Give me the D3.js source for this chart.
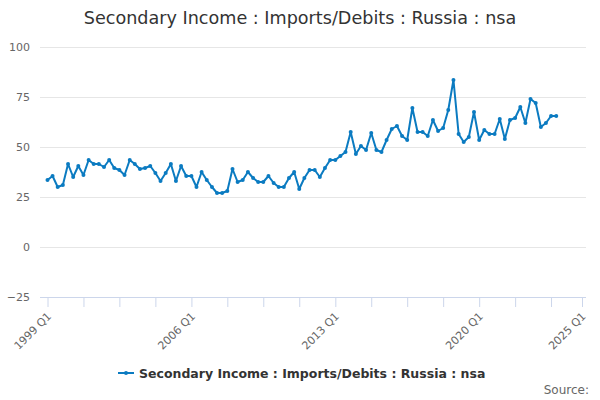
<!DOCTYPE html>
<html>
<head>
<meta charset="utf-8">
<script src="https://cdn.jsdelivr.net/npm/d3@7"></script>
<style>
  body { margin: 0; background: #fff; }
  svg { font-family: "DejaVu Sans", sans-serif; }
</style>
</head>
<body>
<div id="chart"></div>
<script>
const seriesName = "Secondary Income : Imports/Debits : Russia : nsa";
const startYear = 1999;
// quarterly values, 1999 Q1 .. 2023 Q4
const values = [
  33.5, 35.5, 30, 31,
  41.5, 35, 40.5, 36,
  43.5, 41.5, 41.5, 40,
  43.5, 39.5, 38.5, 36,
  43.5, 41.5, 39, 39.5,
  40.5, 37, 33, 37,
  41.5, 33, 40.5, 35.5,
  35.5, 30, 37.5, 33.5,
  30, 27, 27, 28,
  39, 32.5, 33.5, 37.5,
  34.5, 32.5, 32.5, 35.5,
  32, 30, 30, 34.5,
  37.5, 29, 34.5, 38.5,
  38.5, 35, 39.5, 43.5,
  43.5, 45.5, 47.5, 57.5,
  46.5, 50.5, 48.5, 57,
  48.5, 47.5, 53.5, 59,
  60.5, 55.5, 53.5, 69.5,
  57.5, 57.5, 55.5, 63.5,
  58, 59.5, 68.5, 83.5,
  56.5, 52.5, 55, 67.5,
  53.5, 58.5, 56.5, 56.5,
  64, 54, 63.5, 64.5,
  70, 62, 74, 72,
  60, 62, 65.5, 65.5
];
const yTicks = [-25, 0, 25, 50, 75, 100];
const labelQuarters = [0, 28, 56, 84, 104];   // 1999 Q1, 2006 Q1, 2013 Q1, 2020 Q1, 2025 Q1
const tickQuarters = [0, 7, 14, 21, 28, 35, 42, 49, 56, 63, 70, 77, 84, 91, 98, 104];

const containerWidth = 600;
const containerHeight = 400;
const plot = { left: 40, right: 586, top: 47, bottom: 297 };

const qDate = q => new Date(startYear + Math.floor(q / 4), (q % 4) * 3, 1);
const qLabel = q => `${startYear + Math.floor(q / 4)} Q${q % 4 + 1}`;

const data = values.map((v, i) => ({ date: qDate(i), value: v }));

const svg = d3.select('#chart')
  .append('svg')
  .attr('width', containerWidth)
  .attr('height', containerHeight);

const x = d3.scaleTime()
  .domain([qDate(0), qDate(104)])
  .range([47.5, 582]);

const y = d3.scaleLinear()
  .domain([-25, 100])
  .range([plot.bottom, plot.top]);

// title
svg.append('text')
  .attr('x', containerWidth / 2)
  .attr('y', 24)
  .attr('text-anchor', 'middle')
  .style('font-size', '17.6px')
  .style('fill', '#333')
  .text(seriesName);

// grid + y labels
const yAxis = svg.append('g')
  .attr('transform', `translate(${plot.left}, 0)`)
  .call(d3.axisLeft(y).tickValues(yTicks).tickSize(-(plot.right - plot.left)).tickPadding(10));
yAxis.select('.domain').remove();
yAxis.selectAll('.tick line').attr('stroke', '#e6e6e6');
yAxis.selectAll('.tick text')
  .style('font-size', '11px')
  .style('fill', '#666')
  .style('font-family', '"DejaVu Sans", sans-serif');

// x axis
const xAxis = svg.append('g')
  .attr('transform', `translate(0, ${plot.bottom})`)
  .call(d3.axisBottom(x)
    .tickValues(tickQuarters.map(qDate))
    .tickSize(10)
    .tickSizeOuter(0)
    .tickFormat((d, i) => labelQuarters.includes(tickQuarters[i]) ? qLabel(tickQuarters[i]) : ''));
xAxis.select('.domain')
  .attr('d', `M${plot.left},0.5H${plot.right}`)
  .attr('stroke', '#ccd6eb');
xAxis.selectAll('.tick line').attr('stroke', '#ccd6eb');
xAxis.selectAll('.tick text')
  .style('font-size', '11px')
  .style('fill', '#666')
  .style('font-family', '"DejaVu Sans", sans-serif')
  .attr('text-anchor', 'end')
  .attr('dy', null)
  .attr('y', 0)
  .attr('transform', 'translate(4, 20) rotate(-45)');

// line
const line = d3.line()
  .x(d => x(d.date))
  .y(d => y(d.value));

svg.append('path')
  .datum(data)
  .attr('fill', 'none')
  .attr('stroke', '#0b7bc1')
  .attr('stroke-width', 2)
  .attr('stroke-linejoin', 'round')
  .attr('d', line);

svg.selectAll('.dot')
  .data(data)
  .enter()
  .append('circle')
  .attr('class', 'dot')
  .attr('cx', d => x(d.date))
  .attr('cy', d => y(d.value))
  .attr('r', 2)
  .attr('fill', '#0b7bc1');

// legend
const legend = svg.append('g').attr('transform', 'translate(118, 373)');
legend.append('line')
  .attr('x1', 0).attr('x2', 16)
  .attr('stroke', '#0b7bc1')
  .attr('stroke-width', 2);
legend.append('circle')
  .attr('cx', 8).attr('r', 2)
  .attr('fill', '#0b7bc1');
legend.append('text')
  .attr('x', 21)
  .attr('y', 5)
  .style('font-size', '12.5px')
  .style('font-weight', 'bold')
  .style('fill', '#333')
  .text(seriesName);

// source
svg.append('text')
  .attr('x', 589)
  .attr('y', 394)
  .attr('text-anchor', 'end')
  .style('font-size', '12px')
  .style('fill', '#666')
  .text('Source:');
</script>
</body>
</html>
